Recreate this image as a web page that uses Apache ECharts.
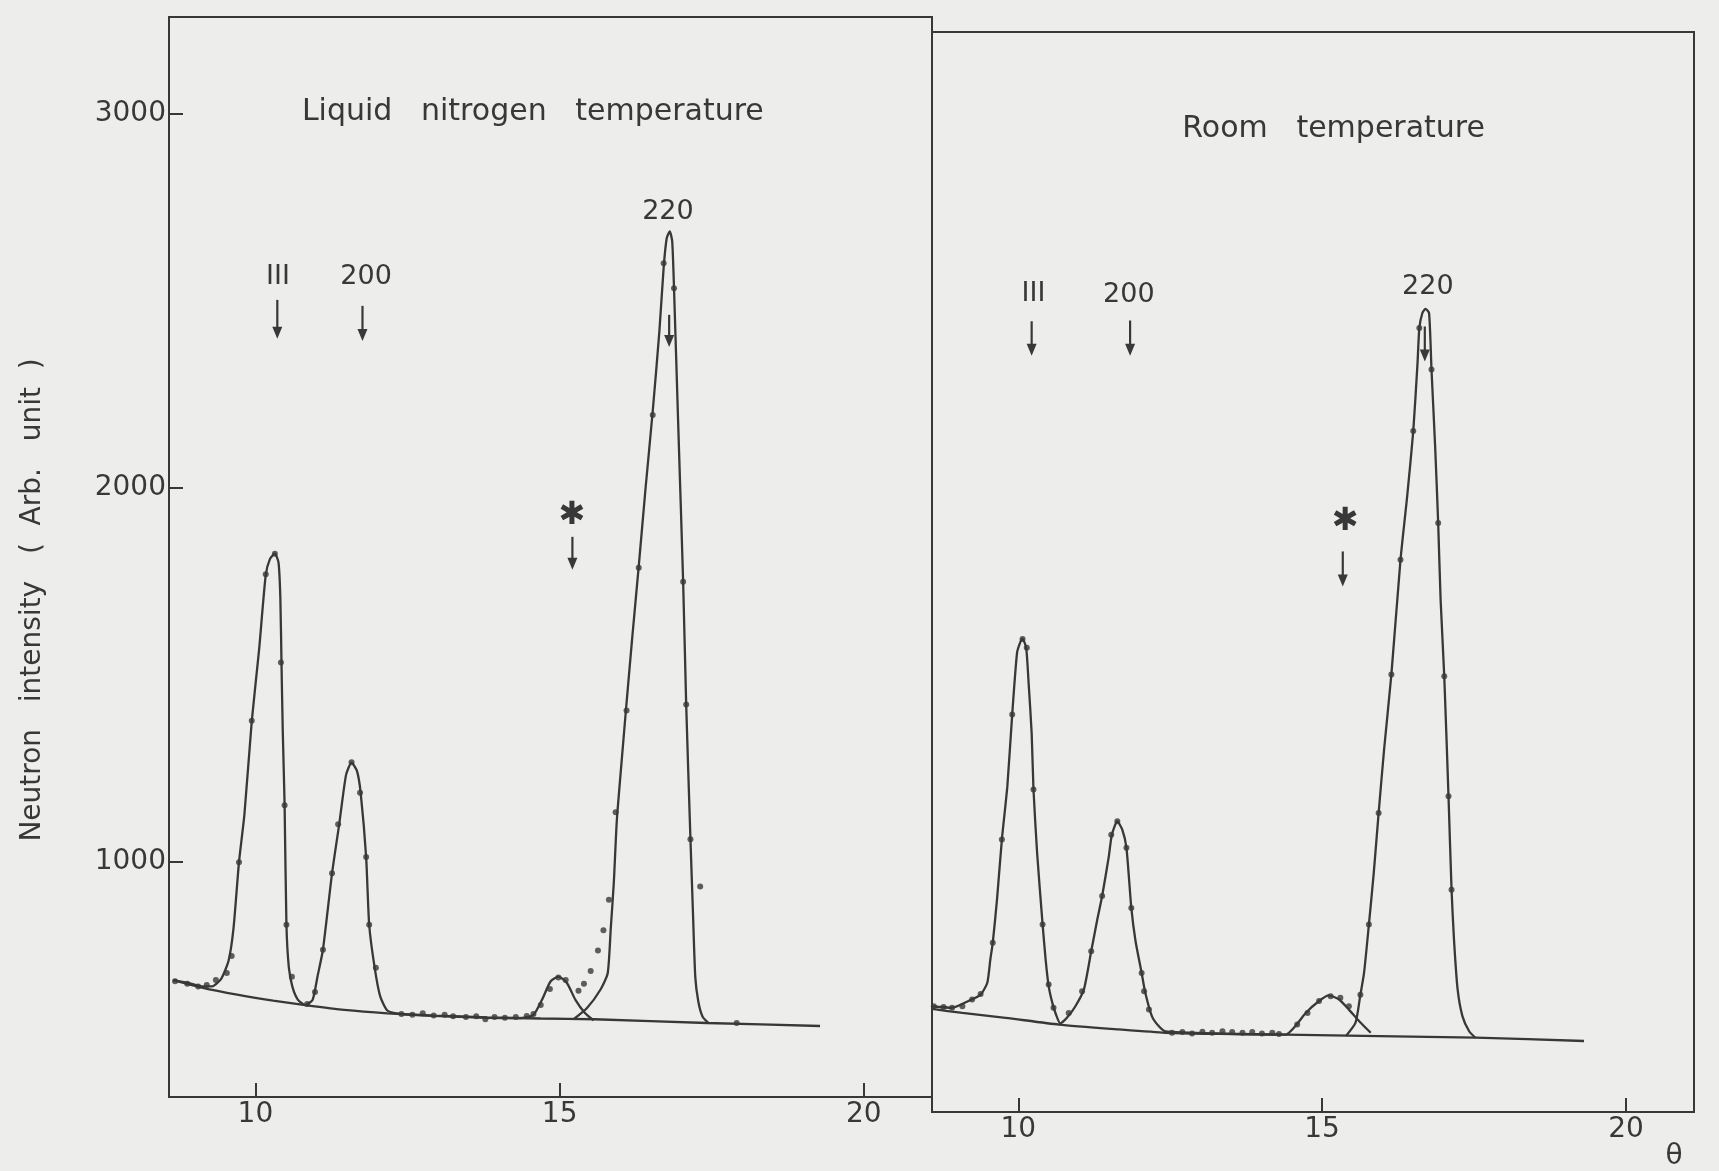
<!DOCTYPE html>
<html><head><meta charset="utf-8">
<script src="https://cdn.jsdelivr.net/npm/echarts@6/dist/echarts.min.js"></script>
<style>html,body{margin:0;padding:0;background:#ededeb;}#c{width:1719px;height:1171px;}</style>
</head><body><div id="c"></div>
<script>
// ---- axis ticks ----
const xTicks = [10, 15, 20];
const yTicks = [1000, 2000, 3000];
const xRange = [8.58, 21.12];
const yRange = [370, 3260];

// ---- Liquid nitrogen temperature panel ----
const lnBackground = [[8.65,683],[9.12,663],[9.70,644],[10.29,628],[10.82,616],[11.46,603],[12.17,594],[12.93,588],[13.81,583],[14.69,580],[15.57,578],[17.42,568],[19.28,560]];
const lnFit = [[8.65,683],[8.88,676],[9.12,666],[9.29,666],[9.44,687],[9.56,735],[9.64,821],[9.73,998],[9.82,1127],[9.94,1375],[10.06,1566],[10.17,1767],[10.24,1810],[10.32,1824],[10.38,1800],[10.41,1705],[10.43,1520],[10.45,1347],[10.48,1151],[10.51,831],[10.55,716],[10.61,664],[10.70,630],[10.82,616],[10.94,630],[11.02,692],[11.11,764],[11.26,969],[11.38,1103],[11.49,1232],[11.58,1265],[11.67,1242],[11.73,1184],[11.82,1012],[11.87,831],[11.96,716],[12.05,640],[12.17,601],[12.40,592],[12.93,587],[13.81,582],[14.35,581],[14.57,590],[14.71,630],[14.85,679],[14.98,692],[15.12,675],[15.26,630],[15.42,594],[15.56,575]];
const ln220 = [[15.23,578],[15.45,608],[15.67,657],[15.79,701],[15.84,820],[15.89,942],[15.94,1110],[16.02,1270],[16.09,1406],[16.19,1593],[16.30,1790],[16.41,1995],[16.53,2205],[16.64,2420],[16.71,2590],[16.76,2668],[16.81,2686],[16.85,2660],[16.88,2534],[16.95,2164],[17.03,1749],[17.08,1420],[17.15,1060],[17.19,870],[17.23,690],[17.28,625],[17.35,585],[17.45,568]];
const lnObserved = [[8.68,680],[8.88,673],[9.06,666],[9.20,670],[9.35,683],[9.53,702],[9.61,747],[9.73,998],[9.94,1377],[10.17,1769],[10.32,1824],[10.42,1533],[10.48,1151],[10.51,831],[10.60,692],[10.85,619],[10.98,651],[11.11,764],[11.26,969],[11.36,1100],[11.58,1266],[11.72,1184],[11.82,1012],[11.87,831],[11.98,716],[12.40,592],[12.58,590],[12.75,594],[12.93,588],[13.11,590],[13.25,586],[13.46,584],[13.63,586],[13.78,578],[13.93,584],[14.10,582],[14.28,584],[14.46,587],[14.57,592],[14.69,616],[14.84,659],[14.98,690],[15.10,683],[15.31,654],[15.40,673],[15.51,707],[15.63,762],[15.72,816],[15.81,898],[15.92,1132],[16.10,1404],[16.30,1786],[16.53,2195],[16.71,2601],[16.88,2534],[17.03,1749],[17.08,1420],[17.15,1060],[17.31,933],[17.91,568]];

// ---- Room temperature panel ----
const rtBackground = [[8.58,646],[9.08,635],[9.79,622],[10.67,604],[11.65,591],[12.42,582],[13.30,579],[14.40,577],[15.94,573],[17.53,569],[19.31,560]];
const rtFit = [[8.58,653],[8.91,649],[9.18,667],[9.38,684],[9.49,716],[9.54,778],[9.58,823],[9.65,939],[9.73,1099],[9.82,1242],[9.90,1434],[9.98,1599],[10.04,1630],[10.07,1636],[10.13,1612],[10.17,1518],[10.22,1384],[10.25,1233],[10.31,1063],[10.40,872],[10.45,778],[10.50,707],[10.56,662],[10.62,631],[10.69,607],[10.80,622],[10.94,653],[11.08,698],[11.20,800],[11.30,885],[11.38,948],[11.49,1054],[11.54,1112],[11.63,1148],[11.71,1126],[11.78,1077],[11.86,916],[11.93,827],[12.03,742],[12.09,689],[12.20,626],[12.31,600],[12.42,586],[13.30,580],[14.40,577],[14.56,600],[14.73,635],[14.95,667],[15.11,682],[15.28,671],[15.44,644],[15.61,613],[15.80,582]];
const rt220 = [[15.39,573],[15.55,609],[15.63,684],[15.69,742],[15.77,872],[15.85,1010],[15.93,1170],[16.02,1340],[16.14,1541],[16.29,1848],[16.40,2018],[16.50,2192],[16.57,2374],[16.60,2468],[16.65,2508],[16.70,2519],[16.76,2508],[16.80,2357],[16.86,2151],[16.91,1946],[16.95,1741],[17.01,1536],[17.08,1215],[17.13,965],[17.17,832],[17.23,698],[17.31,626],[17.42,586],[17.52,569]];
const rtObserved = [[8.61,653],[8.77,651],[8.91,649],[9.08,653],[9.24,671],[9.38,686],[9.58,823],[9.73,1099],[9.90,1434],[10.07,1636],[10.14,1612],[10.25,1233],[10.40,872],[10.50,711],[10.58,649],[10.83,635],[11.05,693],[11.20,800],[11.38,948],[11.53,1112],[11.63,1148],[11.78,1077],[11.86,916],[12.03,742],[12.07,693],[12.15,644],[12.53,582],[12.70,584],[12.86,580],[13.03,585],[13.19,582],[13.36,586],[13.52,584],[13.69,582],[13.85,584],[14.01,580],[14.18,582],[14.29,579],[14.59,604],[14.76,635],[14.95,667],[15.14,680],[15.30,676],[15.44,653],[15.63,684],[15.77,872],[15.93,1170],[16.14,1541],[16.29,1848],[16.50,2192],[16.60,2468],[16.80,2357],[16.91,1946],[17.01,1536],[17.08,1215],[17.13,965]];

// ---- annotations (data coordinates of each panel) ----
const panelTitles = [
  {panel:0, text:'Liquid   nitrogen   temperature', x:14.56, y:3006},
  {panel:1, text:'Room   temperature', x:15.19, y:3001}
];
const peakLabels = [
  {panel:0, text:'III', x:10.37, y:2564},
  {panel:0, text:'200', x:11.82, y:2564},
  {panel:0, text:'220', x:16.78, y:2738},
  {panel:0, text:'\u2731', x:15.20, y:1925},
  {panel:1, text:'III', x:10.25, y:2560},
  {panel:1, text:'200', x:11.82, y:2557},
  {panel:1, text:'220', x:16.74, y:2578},
  {panel:1, text:'\u2731', x:15.38, y:1950}
];
const peakArrows = [
  {panel:0, x:10.36, from:2503, to:2399},
  {panel:0, x:11.76, from:2487, to:2393},
  {panel:0, x:16.80, from:2463, to:2377},
  {panel:0, x:15.21, from:1869, to:1781},
  {panel:1, x:10.22, from:2486, to:2394},
  {panel:1, x:11.84, from:2488, to:2394},
  {panel:1, x:16.69, from:2472, to:2378},
  {panel:1, x:15.34, from:1870, to:1776}
];
const yAxisTitle = {panel:0, text:'Neutron   intensity   (  Arb.   unit  )', x:6.345, y:1700};
const xAxisTitle = {panel:1, text:'\u03b8', x:20.79, y:251};

const INK = '#383838';
const FONT = 'DejaVu Sans';

function xAxisCfg(gi) {
  return {
    type: 'value', gridIndex: gi, min: xRange[0], max: xRange[1],
    axisLine: {show: false}, splitLine: {show: false},
    axisTick: {show: true, inside: true, length: 14, customValues: xTicks, lineStyle: {color: INK, width: 2}},
    axisLabel: {show: true, customValues: xTicks, color: INK, fontSize: 28, fontFamily: FONT, margin: 4,
      formatter: v => String(v)}
  };
}
function yAxisCfg(gi, labels) {
  return {
    type: 'value', gridIndex: gi, min: yRange[0], max: yRange[1],
    axisLine: {show: false}, splitLine: {show: false},
    axisTick: {show: labels, inside: true, length: 14, customValues: yTicks, lineStyle: {color: INK, width: 2}},
    axisLabel: {show: labels, customValues: yTicks, color: INK, fontSize: 28, fontFamily: FONT, margin: 3,
      formatter: v => String(v)}
  };
}
function lineSeries(gi, data) {
  return {type: 'line', xAxisIndex: gi, yAxisIndex: gi, data: data, showSymbol: false, smooth: 0.2,
    lineStyle: {color: INK, width: 2.3}, silent: true};
}
function dotSeries(gi, data) {
  return {type: 'scatter', xAxisIndex: gi, yAxisIndex: gi, data: data, symbolSize: 6,
    itemStyle: {color: INK}, silent: true};
}

const chart = echarts.init(document.getElementById('c'), null, {renderer: 'canvas'});
chart.setOption({
  animation: false,
  backgroundColor: '#ededeb',
  grid: [
    {left: 169, top: 17, width: 763, height: 1080, show: true, borderColor: INK, borderWidth: 2, backgroundColor: 'transparent'},
    {left: 932, top: 32, width: 762, height: 1080, show: true, borderColor: INK, borderWidth: 2, backgroundColor: 'transparent'}
  ],
  xAxis: [xAxisCfg(0), xAxisCfg(1)],
  yAxis: [yAxisCfg(0, true), yAxisCfg(1, false)],
  series: [
    lineSeries(0, lnBackground), lineSeries(0, lnFit), lineSeries(0, ln220), dotSeries(0, lnObserved),
    lineSeries(1, rtBackground), lineSeries(1, rtFit), lineSeries(1, rt220), dotSeries(1, rtObserved)
  ]
});

function toPx(panel, x, y) { return chart.convertToPixel({gridIndex: panel}, [x, y]); }
const elements = [];
function addText(a, size, rotation) {
  const p = toPx(a.panel, a.x, a.y);
  elements.push({type: 'text', x: p[0], y: p[1], rotation: rotation || 0, silent: true,
    style: {text: a.text, fill: INK, fontSize: size, fontFamily: FONT, align: 'center', verticalAlign: 'middle'}});
}
panelTitles.forEach(a => addText(a, 30));
peakLabels.forEach(a => addText(a, a.text === '\u2731' ? 32 : 27));
addText(yAxisTitle, 28, Math.PI / 2);
addText(xAxisTitle, 28);
peakArrows.forEach(a => {
  const p1 = toPx(a.panel, a.x, a.from), p2 = toPx(a.panel, a.x, a.to);
  elements.push({type: 'line', silent: true, shape: {x1: p1[0], y1: p1[1], x2: p2[0], y2: p2[1] - 6},
    style: {stroke: INK, lineWidth: 2.2}});
  elements.push({type: 'polygon', silent: true,
    shape: {points: [[p2[0] - 5, p2[1] - 12], [p2[0] + 5, p2[1] - 12], [p2[0], p2[1]]]},
    style: {fill: INK}});
});
chart.setOption({graphic: elements});
</script></body></html>
